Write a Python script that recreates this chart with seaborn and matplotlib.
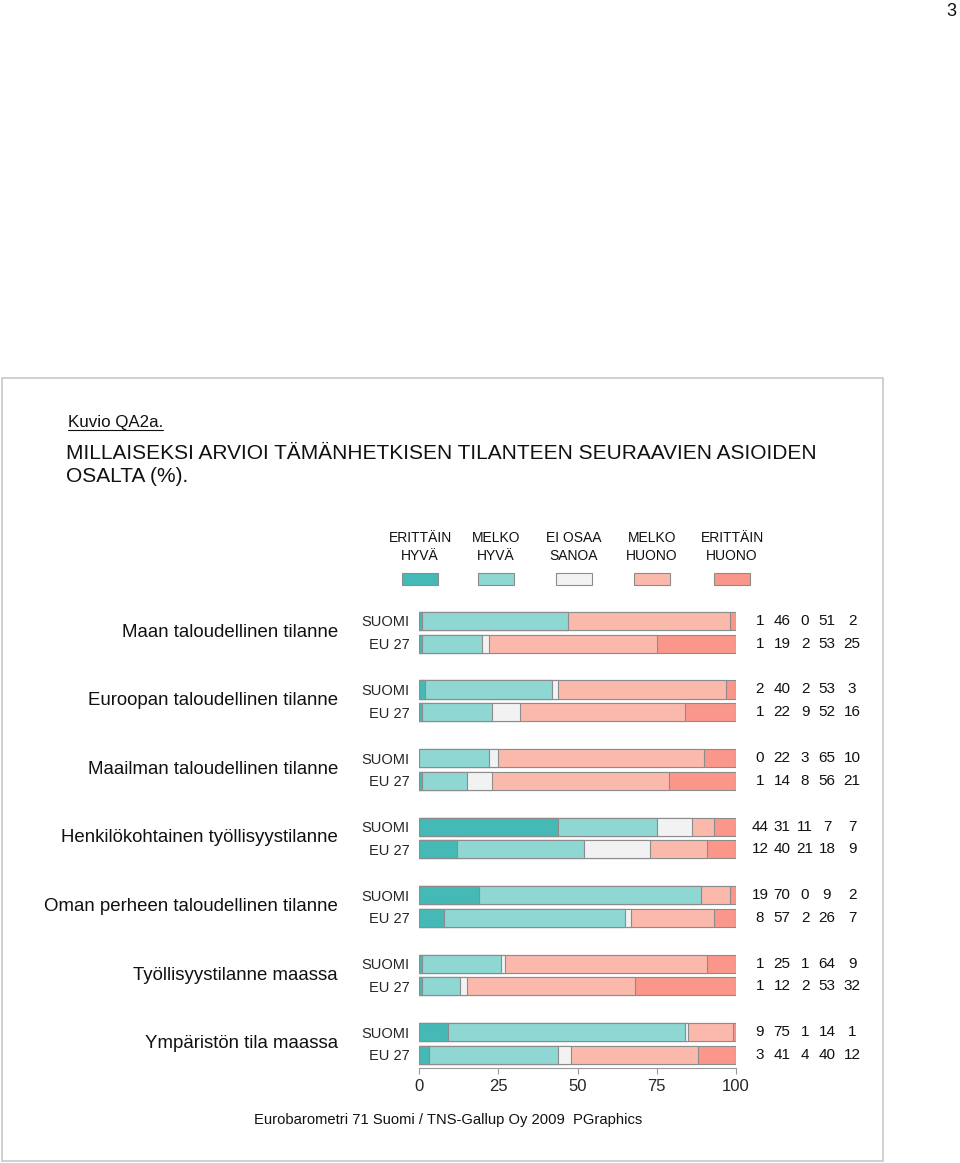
import numpy as np
import pandas as pd
import seaborn as sns
import matplotlib.pyplot as plt
from matplotlib.patches import Rectangle
from matplotlib.transforms import blended_transform_factory

groups = ["Maan taloudellinen tilanne", "Euroopan taloudellinen tilanne",
          "Maailman taloudellinen tilanne", "Henkilökohtainen työllisyystilanne",
          "Oman perheen taloudellinen tilanne", "Työllisyystilanne maassa",
          "Ympäristön tila maassa"]
suomi = [[1, 46, 0, 51, 2], [2, 40, 2, 53, 3], [0, 22, 3, 65, 10], [44, 31, 11, 7, 7],
         [19, 70, 0, 9, 2], [1, 25, 1, 64, 9], [9, 75, 1, 14, 1]]
eu27 = [[1, 19, 2, 53, 25], [1, 22, 9, 52, 16], [1, 14, 8, 56, 21], [12, 40, 21, 18, 9],
        [8, 57, 2, 26, 7], [1, 12, 2, 53, 32], [3, 41, 4, 40, 12]]
answers = ["ERITTÄIN\nHYVÄ", "MELKO\nHYVÄ", "EI OSAA\nSANOA", "MELKO\nHUONO", "ERITTÄIN\nHUONO"]
colors = ["#45b9b6", "#8fd7d3", "#f2f2f2", "#fbb9ac", "#fa978a"]
xticks = [0, 25, 50, 75, 100]

sns.set_style("white")
plt.rcParams["font.family"] = ["Liberation Sans", "DejaVu Sans"]

# one row per bar, plus an empty slot between groups
rows, order, labels = [], [], []
for i, g in enumerate(groups):
    for tag, vals in (("SUOMI", suomi[i]), ("EU 27", eu27[i])):
        rid = f"{i}_{tag}"
        cum = np.cumsum(vals)
        rows.append({"row": rid, **{f"c{k}": cum[k] for k in range(5)},
                     **{f"v{k}": vals[k] for k in range(5)}})
        order.append(rid)
        labels.append(tag)
    if i < len(groups) - 1:
        order.append(f"{i}_gap")
        labels.append("")
df = pd.DataFrame(rows)

fig = plt.figure(figsize=(9.6, 11.63), dpi=100)
ax = fig.add_axes([419 / 960, 0.0817, 317 / 960, 0.3932])

for k in range(4, -1, -1):
    sns.barplot(data=df, x=f"c{k}", y="row", order=order, orient="h",
                color=colors[k], saturation=1, edgecolor="#8c8c8c",
                linewidth=0.8, width=0.79, ax=ax)

ax.set_xlim(0, 100)
ax.set_ylim(19.57, -0.45)
ax.set_xticks(xticks)
ax.set_xticklabels([str(t) for t in xticks], fontsize=12)
ax.set_yticks(range(len(order)))
ax.set_yticklabels(labels, fontsize=10.5)
ax.tick_params(axis="y", length=0, pad=7)
ax.tick_params(axis="x", length=4, color="#999999", bottom=True, pad=4)
ax.set_xlabel("")
ax.set_ylabel("")
for s in ["top", "right", "left"]:
    ax.spines[s].set_visible(False)
ax.spines["bottom"].set_color("#999999")
ax.spines["bottom"].set_linewidth(0.8)

tr = blended_transform_factory(ax.transAxes, ax.transData)
num_x = [1.0757, 1.1451, 1.2177, 1.287, 1.366]
for _, r in df.iterrows():
    y = order.index(r["row"])
    for k in range(5):
        ax.text(num_x[k], y, str(int(r[f"v{k}"])), transform=tr, ha="center",
                va="center", fontsize=11, color="#111111")
for i, g in enumerate(groups):
    ax.text(-0.2555, i * 3 + 0.5, g, transform=tr, ha="right", va="center",
            fontsize=13.4, color="#111111")

# legend above the bars
px = fig.transFigure
H = 1163
leg_x = [420, 496, 574, 652, 732]
for k in range(5):
    fig.text(leg_x[k] / 960, 1 - 547 / H, answers[k], ha="center", va="center",
             fontsize=10, linespacing=1.45, color="#111111")
    fig.patches.append(Rectangle(((leg_x[k] - 18) / 960, 1 - 585 / H), 36 / 960, 12 / H,
                                 transform=px, facecolor=colors[k],
                                 edgecolor="#8c8c8c", linewidth=0.8))

# frame and texts
fig.patches.append(Rectangle((2 / 960, 1 - 1161 / H), 881 / 960, 783 / H, transform=px,
                             fill=False, edgecolor="#c8c8c8", linewidth=1.2))
fig.text(68 / 960, 1 - 422 / H, "Kuvio QA2a.", ha="left", va="center", fontsize=12.2,
         color="#111111")
fig.add_artist(plt.Line2D([68 / 960, 163 / 960], [1 - 430 / H, 1 - 430 / H],
                          color="#111111", linewidth=0.8))
fig.text(66 / 960, 1 - 465 / H,
         "MILLAISEKSI ARVIOI TÄMÄNHETKISEN TILANTEEN SEURAAVIEN ASIOIDEN\nOSALTA (%).",
         ha="left", va="center", fontsize=15, linespacing=1.25, color="#111111")
fig.text(448 / 960, 1 - 1120 / H, "Eurobarometri 71 Suomi / TNS-Gallup Oy 2009  PGraphics",
         ha="center", va="center", fontsize=10.6, color="#111111")
fig.text(951 / 960, 1 - 12 / H, "3", ha="center", va="center", fontsize=13,
         color="#111111")

fig.savefig("out.png", dpi=100, facecolor="white")
